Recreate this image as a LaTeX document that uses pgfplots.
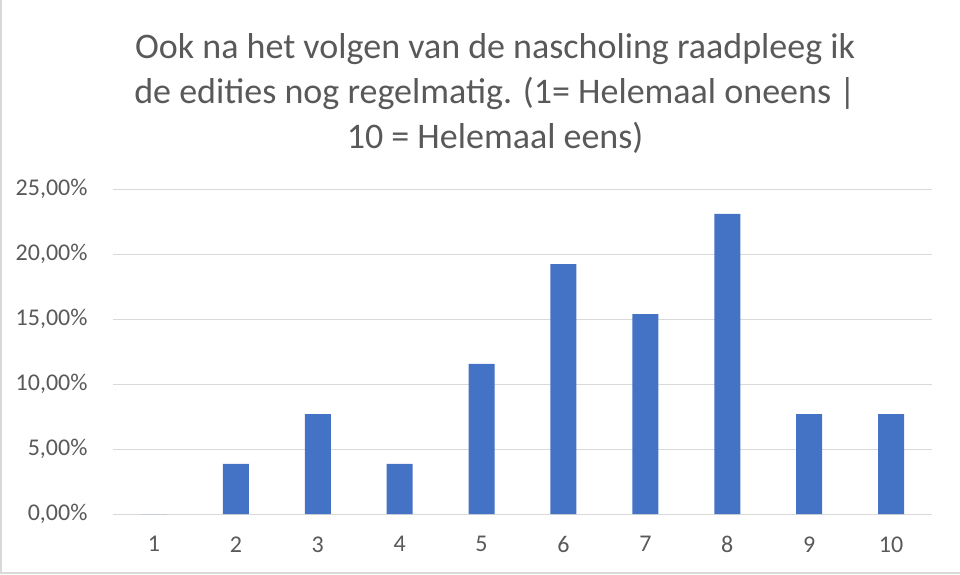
\documentclass[border=0pt]{standalone}
\usepackage{fontspec}
\setmainfont{Carlito}
\usepackage{pgfplots}
\pgfplotsset{compat=1.18}
\definecolor{barblue}{HTML}{4472C4}
\definecolor{txtgray}{HTML}{595959}
\definecolor{gridgray}{HTML}{D9D9D9}
\begin{document}
\begin{tikzpicture}[x=1pt,y=1pt]
\useasboundingbox (0,0) rectangle (960,574);
\draw[color=gridgray,line width=2pt] (1,574) -- (1,1) -- (960,1);
\begin{axis}[
  at={(113pt,60pt)},anchor=south west,
  scale only axis,width=819pt,height=325pt,
  ymin=0,ymax=25,xmin=0.5,xmax=10.5,
  ytick={0,5,10,15,20,25},
  yticklabels={{0,00\%},{5,00\%},{10,00\%},{15,00\%},{20,00\%},{25,00\%}},
  xtick={1,...,10},
  ymajorgrids,grid style={gridgray,line width=0.8pt},
  axis x line*=bottom,axis y line*=left,
  x axis line style={draw=gridgray,line width=0.8pt,-},
  y axis line style={draw=none},
  major tick length=0pt,
  tick label style={font=\fontsize{24}{26}\selectfont,color=txtgray},
  /pgf/number format/assume math mode=true,
  yticklabel style={xshift=-22pt},
  xticklabel style={yshift=-19pt},
  title={Ook na het volgen van de nascholing raadpleeg ik\\de edities nog regelmatig. (1= Helemaal oneens |\\10 = Helemaal eens)},
  title style={at={(0.4665,1)},anchor=south,yshift=26pt,align=center,
    font=\fontsize{36}{45}\selectfont,color=txtgray},
  ybar,bar width=26pt,
]
\addplot[fill=barblue,draw=none] coordinates {
(1,0) (2,3.85) (3,7.69) (4,3.85) (5,11.54) (6,19.23) (7,15.38) (8,23.08) (9,7.69) (10,7.69)};
\end{axis}
\end{tikzpicture}
\end{document}
